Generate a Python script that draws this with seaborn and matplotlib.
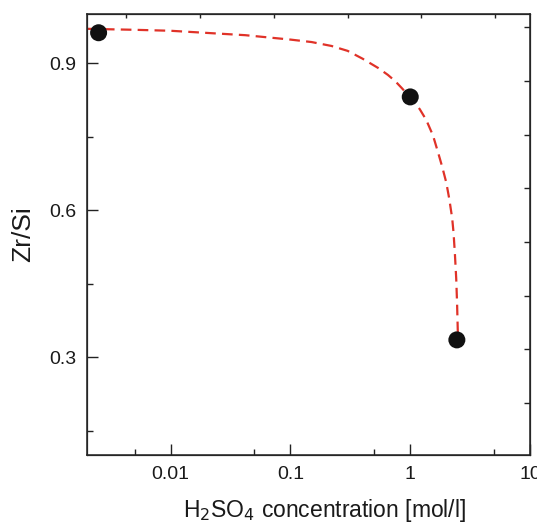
import numpy as np
import pandas as pd
import matplotlib
matplotlib.use("Agg")
import matplotlib.pyplot as plt
import matplotlib.ticker as mticker
import seaborn as sns

# measured points
conc = [0.0025, 1.0, 2.45]
zr_si = [0.962, 0.831, 0.335]

# dashed trend curve
curve_conc = [0.002, 0.005, 0.01, 0.042, 0.1, 0.15, 0.22, 0.3, 0.4, 0.54, 0.65,
              0.75, 0.85, 1.0, 1.2, 1.36, 1.55, 1.71, 1.85, 2.0, 2.12, 2.24,
              2.3, 2.36, 2.42, 2.46, 2.5]
curve_zr_si = [0.970, 0.968, 0.966, 0.957, 0.948, 0.943, 0.935, 0.925, 0.909, 0.89, 0.876,
               0.863, 0.849, 0.83, 0.806, 0.784, 0.752, 0.717, 0.688, 0.656, 0.622, 0.583,
               0.553, 0.51, 0.46, 0.41, 0.343]

pts = pd.DataFrame({"conc": conc, "zr_si": zr_si})
fit = pd.DataFrame({"conc": curve_conc, "zr_si": curve_zr_si})

sns.set_style("ticks")
plt.rcParams["font.family"] = ["Liberation Sans", "DejaVu Sans"]
plt.rcParams["text.color"] = "#1a1a1a"
plt.rcParams["axes.labelcolor"] = "#1a1a1a"
plt.rcParams["xtick.labelcolor"] = "#1a1a1a"
plt.rcParams["ytick.labelcolor"] = "#1a1a1a"

fig = plt.figure(figsize=(5.37, 5.23), dpi=100)
ax = fig.add_axes([0.162, 0.130, 0.825, 0.843])

sns.lineplot(data=fit, x="conc", y="zr_si", ax=ax, color="#e03228",
             linewidth=1.6, linestyle=(0, (4.8, 2.8)), estimator=None, sort=False)
sns.scatterplot(data=pts, x="conc", y="zr_si", ax=ax, color="#111111",
                s=150, edgecolor="none", zorder=5)

ax.set_xscale("log")
ax.set_xlim(0.002, 10)
ax.set_ylim(0.1, 1.0)
ax.xaxis.set_major_locator(mticker.FixedLocator([0.01, 0.1, 1, 10]))
ax.xaxis.set_major_formatter(mticker.FixedFormatter(["0.01", "0.1", "1", "10"]))
ax.xaxis.set_minor_locator(mticker.FixedLocator([0.005, 0.05, 0.5, 5]))
ax.yaxis.set_major_locator(mticker.FixedLocator([0.3, 0.6, 0.9]))
ax.yaxis.set_minor_locator(mticker.FixedLocator([0.15, 0.45, 0.75]))
ax.yaxis.set_major_formatter(mticker.FormatStrFormatter("%.1f"))

ax.tick_params(which="major", direction="in", length=8, width=1.0,
               labelsize=14, color="#222222", pad=8)
ax.tick_params(which="minor", direction="in", length=4.5, width=1.0, color="#222222")
ax.set_xlabel(r"H$_2$SO$_4$ concentration [mol/l]", fontsize=16.5)
ax.set_ylabel("Zr/Si", fontsize=19, labelpad=10)
ax.xaxis.set_label_coords(0.537, -0.095)

for sp in ax.spines.values():
    sp.set_linewidth(1.1)
    sp.set_color("#222222")

# small frame ticks on top and right
top = ax.twiny()
top.set_xlim(0, 6)
top.set_xticks([0.53, 1.53, 2.53, 3.53, 4.53, 5.53])
top.tick_params(direction="in", length=3, width=1.0, labeltop=False, color="#222222")
right = ax.twinx()
right.set_ylim(0.032, 8.244)
right.set_yticks([1, 2, 3, 4, 5, 6, 7, 8])
right.tick_params(direction="in", length=4.5, width=1.0, labelright=False, color="#222222")

fig.savefig("out.png", dpi=100)
